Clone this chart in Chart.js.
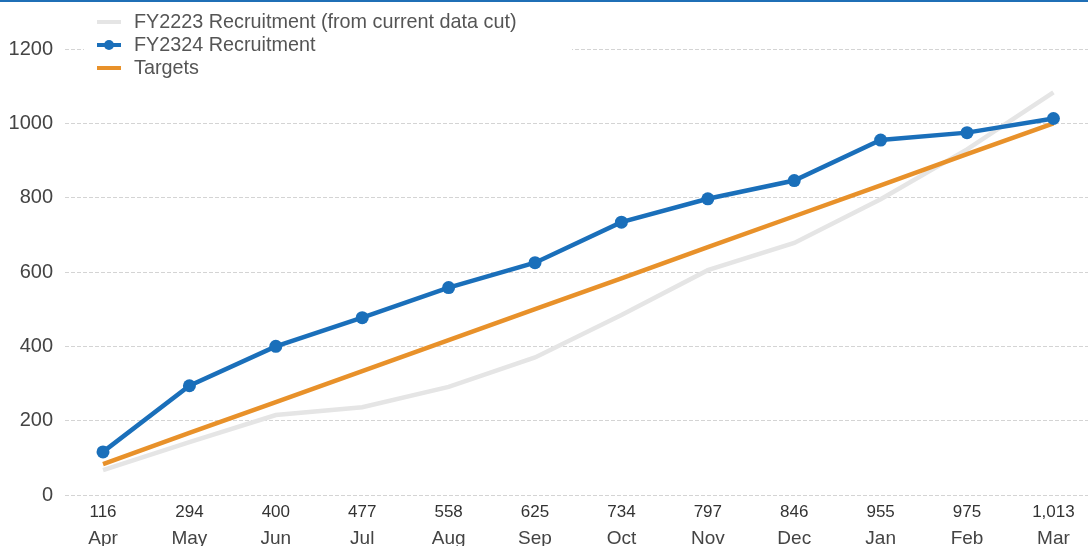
<!DOCTYPE html>
<html>
<head>
<meta charset="utf-8">
<script src="https://cdn.jsdelivr.net/npm/chart.js@4/dist/chart.umd.min.js"></script>
<style>
  html, body { margin: 0; padding: 0; background: #fff; }
  #wrap { position: relative; width: 1088px; height: 546px; overflow: hidden; }
  #topRule { position: absolute; left: 0; top: 0; width: 1088px; height: 2px; background: #1f6fb6; z-index: 2; }
  canvas { display: block; }
</style>
</head>
<body>
<div id="wrap">
  <div id="topRule"></div>
  <canvas id="chart" width="1088" height="546"></canvas>
</div>
<script>
// Financial-year months
const months = ['Apr', 'May', 'Jun', 'Jul', 'Aug', 'Sep', 'Oct', 'Nov', 'Dec', 'Jan', 'Feb', 'Mar'];

// Cumulative recruitment, FY2324 (also shown under each month)
const recruit2324 = [116, 294, 400, 477, 558, 625, 734, 797, 846, 955, 975, 1013];

// Cumulative recruitment, FY2223 (from current data cut)
const recruit2223 = [67, 142, 215, 236, 291, 370, 484, 605, 678, 796, 930, 1083];

// Cumulative targets
const targets = [83, 167, 250, 333, 417, 500, 583, 667, 750, 833, 917, 1000];

// Y axis ticks
const yTicks = [0, 200, 400, 600, 800, 1000, 1200];

const FONT = "'Liberation Sans', Arial, Helvetica, sans-serif";
const BLUE = '#1a6fba';
const ORANGE = '#e8912a';
const GREY = '#e5e5e5';
const LINE_W = 4.5;

const toPoints = arr => arr.map((v, i) => ({ x: i, y: v }));
const monthIdx = months.map((_, i) => i);

const datasets = [
  {
    label: 'FY2223 Recruitment (from current data cut)',
    data: toPoints(recruit2223),
    borderColor: GREY, backgroundColor: GREY,
    borderWidth: LINE_W, pointRadius: 0, tension: 0, order: 2
  },
  {
    label: 'FY2324 Recruitment',
    data: toPoints(recruit2324),
    borderColor: BLUE, backgroundColor: BLUE,
    borderWidth: LINE_W, pointRadius: 6.5, pointHoverRadius: 6.5,
    pointBorderWidth: 0, tension: 0, order: 0
  },
  {
    label: 'Targets',
    data: toPoints(targets),
    borderColor: ORANGE, backgroundColor: ORANGE,
    borderWidth: LINE_W, pointRadius: 0, tension: 0, order: 1
  }
];

// Legend stacked in the upper-left of the plot, on a white panel
const legendPanel = {
  id: 'legendPanel',
  afterDraw(chart) {
    const ctx = chart.ctx;
    ctx.save();
    ctx.fillStyle = '#ffffff';
    ctx.fillRect(84, 6, 488, 76);
    const rows = [22, 45, 68];
    datasets.forEach((ds, i) => {
      const y = rows[i];
      ctx.strokeStyle = ds.borderColor;
      ctx.lineWidth = 4;
      ctx.lineCap = 'butt';
      ctx.beginPath();
      ctx.moveTo(97, y);
      ctx.lineTo(121, y);
      ctx.stroke();
      if (ds.pointRadius > 0) {
        ctx.fillStyle = ds.borderColor;
        ctx.beginPath();
        ctx.arc(109, y, 5, 0, Math.PI * 2);
        ctx.fill();
      }
      ctx.fillStyle = '#555555';
      ctx.font = '19.8px ' + FONT;
      ctx.textBaseline = 'middle';
      ctx.textAlign = 'left';
      ctx.fillText(ds.label, 134, y + 1);
    });
    ctx.restore();
  }
};

// Keep the plot edge-to-edge: no extra room reserved for end tick labels
const noEndPadding = s => { s.paddingLeft = 0; s.paddingRight = 0; };

const xCommon = {
  type: 'linear',
  position: 'bottom',
  min: -0.44,
  max: 11.40,
  grid: { display: false, drawTicks: false },
  border: { display: false },
  afterBuildTicks: axis => { axis.ticks = monthIdx.map(v => ({ value: v })); }
};

new Chart(document.getElementById('chart'), {
  type: 'line',
  data: { datasets },
  plugins: [legendPanel],
  options: {
    responsive: false,
    animation: false,
    layout: { autoPadding: false, padding: { top: 49, right: 0, bottom: 0, left: 0 } },
    plugins: { legend: { display: false }, tooltip: { enabled: false } },
    scales: {
      xVal: Object.assign({}, xCommon, {
        weight: 0,
        ticks: {
          autoSkip: false, maxRotation: 0, padding: 7,
          color: '#333333', font: { family: FONT, size: 17 },
          callback: v => recruit2324[v].toLocaleString('en-US')
        },
        afterFit: s => { s.height = 26; noEndPadding(s); }
      }),
      x: Object.assign({}, xCommon, {
        weight: 1,
        ticks: {
          autoSkip: false, maxRotation: 0, padding: 6,
          color: '#444444', font: { family: FONT, size: 19 },
          callback: v => months[v]
        },
        afterFit: s => { s.height = 25; noEndPadding(s); }
      }),
      y: {
        min: 0, max: 1200,
        afterBuildTicks: axis => { axis.ticks = yTicks.map(v => ({ value: v })); },
        grid: { color: '#d4d4d4', lineWidth: 1, drawTicks: false },
        border: { display: false, dash: [4, 2] },
        ticks: {
          padding: 12, color: '#444444',
          font: { family: FONT, size: 20 },
          callback: v => String(v)
        },
        afterFit: s => { s.width = 65; s.paddingTop = 0; s.paddingBottom = 0; }
      }
    }
  }
});
</script>
</body>
</html>
